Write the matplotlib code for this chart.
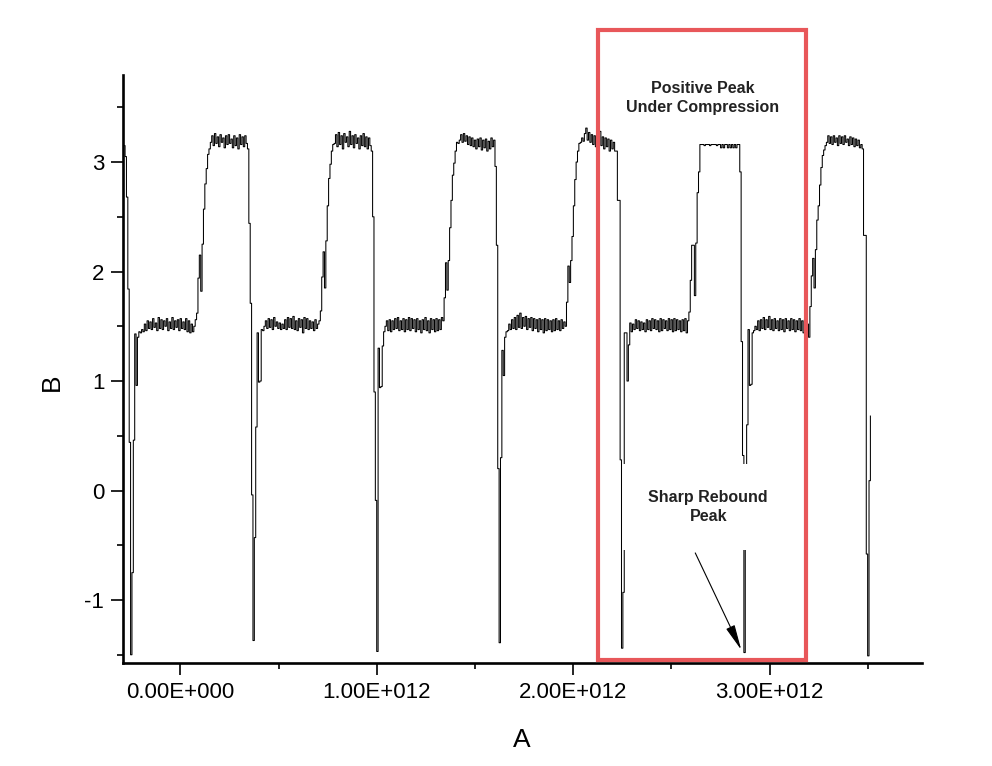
import matplotlib
matplotlib.use("Agg")
import matplotlib.pyplot as plt
import numpy as np
from matplotlib.patches import Rectangle
from matplotlib.ticker import FuncFormatter, MultipleLocator

plt.rcParams["font.family"] = ["Liberation Sans", "DejaVu Sans"]
plt.rcParams["axes.unicode_minus"] = False

X_START = -0.2885      # in units of 1e12
X_STEP = 0.0070        # in units of 1e12

LEAD = [3.15, 3.05, 2.68, 1.84, 0.44]

CYCLE_1 = [
    -1.50, -0.75, 0.46, 1.43, 0.96, 1.40, 1.45,
    1.44, 1.47, 1.45, 1.52, 1.46, 1.55, 1.48, 1.54, 1.47, 1.57,
    1.49, 1.53, 1.46, 1.58, 1.48, 1.56, 1.47, 1.55, 1.50, 1.57,
    1.46, 1.54, 1.48, 1.58, 1.47, 1.55, 1.49, 1.56, 1.46, 1.57,
    1.48, 1.54, 1.47, 1.57, 1.45, 1.55, 1.44, 1.52, 1.45, 1.50,
    1.56,
    1.62, 1.94, 2.15, 1.82, 2.25, 2.57, 2.80, 2.94, 3.07, 3.12,
    3.18, 3.24, 3.15, 3.26, 3.17, 3.23, 3.14, 3.25, 3.18, 3.22,
    3.13, 3.24, 3.16, 3.25, 3.17, 3.21, 3.13, 3.24, 3.15, 3.22,
    3.12, 3.25, 3.16, 3.23, 3.14, 3.24, 3.17,
    3.12, 2.44, 1.71, -0.04,
]

CYCLE_2 = [
    -1.37, -0.43, 0.58, 1.44, 0.99, 1.00, 1.47,
    1.46, 1.50, 1.55, 1.48, 1.57, 1.49, 1.56, 1.47, 1.58, 1.50,
    1.54, 1.48, 1.53, 1.47, 1.52, 1.48, 1.56, 1.47, 1.58, 1.49,
    1.57, 1.48, 1.59, 1.47, 1.55, 1.46, 1.57, 1.49, 1.56, 1.44,
    1.58, 1.48, 1.57, 1.47, 1.55, 1.48, 1.54, 1.46, 1.56, 1.48,
    1.52, 1.55,
    1.64, 1.95, 2.18, 1.85, 2.28, 2.60, 2.85, 2.98, 3.10, 3.16,
    3.17, 3.25, 3.14, 3.27, 3.16, 3.24, 3.12, 3.26, 3.18, 3.23,
    3.14, 3.28, 3.16, 3.24, 3.13, 3.25, 3.17, 3.22, 3.12, 3.24,
    3.15, 3.26, 3.14, 3.23, 3.12, 3.22, 3.15,
    3.10, 2.50, 0.90, -0.09,
]

CYCLE_3 = [
    -1.47, 1.30, 0.94, 0.95, 1.32, 1.45,
    1.50, 1.55, 1.46, 1.56, 1.45, 1.55, 1.47, 1.57, 1.48, 1.58,
    1.46, 1.55, 1.47, 1.57, 1.45, 1.56, 1.47, 1.58, 1.46, 1.57,
    1.48, 1.56, 1.45, 1.57, 1.47, 1.55, 1.44, 1.56, 1.47, 1.58,
    1.46, 1.55, 1.44, 1.57, 1.47, 1.56, 1.45, 1.57, 1.46, 1.56,
    1.47, 1.58, 1.55,
    1.76, 2.08, 1.83, 2.10, 2.40, 2.65, 2.88, 2.99, 3.10, 3.18,
    3.17, 3.20, 3.25, 3.18, 3.26, 3.19, 3.24, 3.16, 3.23, 3.15,
    3.22, 3.14, 3.20, 3.12, 3.21, 3.14, 3.22, 3.11, 3.20, 3.13,
    3.21, 3.10, 3.19, 3.12, 3.22, 3.14, 3.20,
    2.96, 2.24, 0.20,
]

CYCLE_4 = [
    -1.39, 0.30, 1.28, 1.05, 1.40, 1.45,
    1.46, 1.52, 1.47, 1.56, 1.48, 1.58, 1.47, 1.60, 1.49, 1.62,
    1.48, 1.58, 1.50, 1.59, 1.47, 1.57, 1.49, 1.58, 1.46, 1.57,
    1.48, 1.56, 1.45, 1.57, 1.47, 1.56, 1.44, 1.57, 1.46, 1.56,
    1.47, 1.55, 1.45, 1.56, 1.46, 1.57, 1.47, 1.55, 1.46, 1.56,
    1.48, 1.54, 1.50,
    1.72, 2.05, 1.90, 2.10, 2.32, 2.60, 2.84, 3.00, 3.10, 3.17,
    3.18, 3.22, 3.19, 3.26, 3.31, 3.20, 3.27, 3.18, 3.25, 3.16,
    3.24, 3.14, 3.22, 3.16, 3.28, 3.15, 3.23, 3.12, 3.22, 3.14,
    3.21, 3.10, 3.20, 3.12, 3.18, 3.10,
    3.10, 2.65, 2.65, 0.28,
]

# the compressed cycle: flat top
CYCLE_5 = [
    -1.44, -0.93, 1.44, 1.44, 1.00, 1.33, 1.53,
    1.45, 1.52, 1.47, 1.56, 1.48, 1.55, 1.46, 1.54, 1.47, 1.53,
    1.45, 1.56, 1.47, 1.55, 1.46, 1.57, 1.48, 1.56, 1.47, 1.55,
    1.45, 1.57, 1.46, 1.56, 1.48, 1.55, 1.46, 1.57, 1.47, 1.56,
    1.45, 1.57, 1.46, 1.56, 1.47, 1.55, 1.45, 1.56, 1.46, 1.57,
    1.44, 1.55,
    1.63, 1.92, 2.24, 2.24, 1.78, 2.26, 2.72, 2.91, 3.16,
    3.16, 3.16, 3.15, 3.16, 3.16, 3.16, 3.15, 3.16, 3.16, 3.16,
    3.16, 3.15, 3.16, 3.16, 3.13, 3.16, 3.13, 3.16, 3.16, 3.13,
    3.16, 3.13, 3.16, 3.13, 3.16, 3.13, 3.16, 3.16,
    2.91, 1.36, 0.32,
]

CYCLE_6 = [
    -1.48, -0.50, 0.60, 1.47, 0.96, 0.97, 1.44,
    1.46, 1.50, 1.47, 1.55, 1.46, 1.56, 1.48, 1.58, 1.47, 1.56,
    1.49, 1.59, 1.47, 1.56, 1.46, 1.57, 1.48, 1.55, 1.46, 1.57,
    1.47, 1.56, 1.45, 1.57, 1.48, 1.55, 1.46, 1.57, 1.47, 1.56,
    1.45, 1.55, 1.47, 1.57, 1.46, 1.55, 1.44, 1.56, 1.47, 1.52,
    1.40,
    1.68, 1.96, 2.12, 1.85, 2.20, 2.47, 2.60, 2.79, 2.95, 3.06,
    3.11, 3.15,
    3.18, 3.24, 3.17, 3.23, 3.16, 3.24, 3.18, 3.22, 3.15, 3.24,
    3.17, 3.23, 3.16, 3.24, 3.18, 3.21, 3.15, 3.23, 3.16, 3.22,
    3.14, 3.21, 3.15, 3.20, 3.13, 3.16, 3.12,
    2.33, 2.33, -0.58,
]

TAIL = [-1.51, 0.09, 0.68]

X_TICKS = [0.0, 1e12, 2e12, 3e12]
X_MINOR = [0.5e12, 1.5e12, 2.5e12, 3.5e12]
Y_TICKS = [-1, 0, 1, 2, 3]


def sci_label(v, pos=None):
    if v == 0:
        return "0.00E+000"
    exp = int(np.floor(np.log10(abs(v))))
    mant = v / 10 ** exp
    sign = "+" if exp >= 0 else "-"
    return f"{mant:.2f}E{sign}{abs(exp):03d}"


def main() -> None:
    y = np.array(LEAD + CYCLE_1 + CYCLE_2 + CYCLE_3 + CYCLE_4 + CYCLE_5
                 + CYCLE_6 + TAIL)
    x = (X_START + X_STEP * np.arange(len(y))) * 1e12

    fig = plt.figure(figsize=(9.92, 7.66), dpi=100)
    ax = fig.add_axes([0.1240, 0.1345, 0.8054, 0.7676])

    ax.plot(x, y, color="black", lw=0.75, drawstyle="steps-post", zorder=2)

    ax.set_xlim(-0.292e12, 3.775e12)
    ax.set_ylim(-1.575, 3.795)

    ax.set_xticks(X_TICKS)
    ax.set_xticks(X_MINOR, minor=True)
    ax.xaxis.set_major_formatter(FuncFormatter(sci_label))
    ax.set_yticks(Y_TICKS)
    ax.yaxis.set_minor_locator(MultipleLocator(0.5))

    for side in ["top", "right"]:
        ax.spines[side].set_visible(False)
    for side in ["left", "bottom"]:
        ax.spines[side].set_linewidth(1.9)
    ax.tick_params(which="major", direction="out", length=8.5, width=1.2,
                   labelsize=16, pad=5)
    ax.tick_params(which="minor", direction="out", length=4.5, width=1.2)

    ax.set_xlabel("A", fontsize=19)
    ax.xaxis.label.set_va("center")
    ax.xaxis.set_label_coords(0.499, -0.131)
    ax.set_ylabel("B", fontsize=19)
    ax.yaxis.label.set_va("center")
    ax.yaxis.set_label_coords(-0.089, 0.478)

    # highlight box around the compressed cycle
    box = Rectangle((2.127e12, -1.548), 1.059e12, 5.753, fill=False,
                    edgecolor="#E8575A", lw=3.0, clip_on=False, zorder=5)
    ax.add_patch(box)

    ax.text(2.657e12, 3.585, "Positive Peak\nUnder Compression",
            ha="center", va="center", fontsize=11.5, fontweight="bold",
            color="#222222", linespacing=1.4, zorder=6)

    ax.text(2.687e12, -0.15, "Sharp Rebound\nPeak",
            ha="center", va="center", fontsize=11.5, fontweight="bold",
            color="#222222", linespacing=1.4, zorder=6,
            bbox=dict(boxstyle="square,pad=1.6", fc="white", ec="none"))

    ax.annotate("", xy=(2.855e12, -1.455), xytext=(2.621e12, -0.57),
                arrowprops=dict(arrowstyle="-|>,head_length=1.2,head_width=0.22",
                                color="black", lw=0.8, mutation_scale=13,
                                shrinkA=0, shrinkB=0),
                zorder=6)

    fig.savefig("out.png", dpi=100)
    plt.close(fig)


if __name__ == "__main__":
    main()
